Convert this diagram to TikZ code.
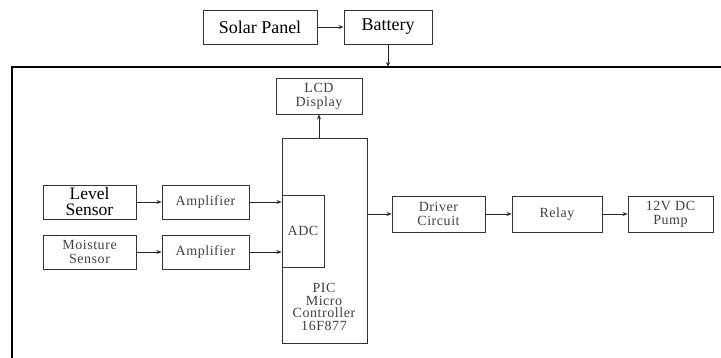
\documentclass[tikz,border=0pt]{standalone}
\usepackage{fontspec}
\setmainfont{Liberation Serif}
\newfontfamily\widefont[LetterSpace=4]{Liberation Serif}
\usetikzlibrary{positioning, arrows.meta, calc}

\begin{document}
\begin{tikzpicture}[
    x=1pt, y=-1pt,
    >={Stealth[length=5pt, width=4pt]},
    blk/.style={
      draw=black!80, line width=0.9pt,
      minimum height=34pt, inner sep=0pt,
      align=center, text=black!75,
      font=\widefont\fontsize{14}{14}\selectfont},
    bigblk/.style={blk, text=black,
      font=\rmfamily\fontsize{18}{16}\selectfont},
    arr/.style={->, line width=0.8pt, black!85},
]

\useasboundingbox (0,0) rectangle (721,358);

% Power supply
\node[bigblk, minimum width=114pt] (solar) at (260,27) {Solar Panel};
\node[bigblk, minimum width=88pt] (battery) at (388,27) {Battery};
\draw[arr] (solar) -- (battery);

% Outer frame
\coordinate (ftl) at (12,67);
\coordinate (ftr) at (721,67);
\coordinate (fbl) at (12,358);
\draw[line width=1.3pt] (ftr) -- (ftl) -- (fbl);
\draw[arr] (battery.south) -- (battery.south |- ftl);

% --- Controller ---
\node[blk, minimum width=85pt, minimum height=205pt] (pic) at (324.5,240.5) {};
\node[blk, minimum width=42pt, minimum height=72pt] (adc) at (303,231) {ADC};
\node[align=center, text=black!75, inner sep=0pt,
      font=\widefont\fontsize{14}{12.5}\selectfont] (pictxt) at (324,307)
  {PIC\\Micro\\Controller\\16F877};
\node[blk, minimum width=86pt, minimum height=36pt] (lcd) at (319,96)
  {LCD\\Display};
\draw[arr] (lcd.south |- pic.north) -- (lcd.south);

% --- Sensors ---
\node[bigblk, minimum width=93pt, font=\rmfamily\fontsize{17.5}{16}\selectfont]
  (level) at (89.5,202) {Level\\Sensor};
\node[blk, minimum width=87pt] (amp1) at (205.5,202) {Amplifier};
\node[blk, minimum width=93pt] (moist) at (89.5,252) {Moisture\\Sensor};
\node[blk, minimum width=87pt] (amp2) at (205.5,252) {Amplifier};

\draw[arr] (level) -- (amp1);
\draw[arr] (moist) -- (amp2);
\draw[arr] (amp1.east) -- (amp1.east -| adc.west);
\draw[arr] (amp2.east) -- (amp2.east -| adc.west);

% --- Output chain ---
\node[blk, minimum width=93pt, minimum height=36pt] (driver) at (438.5,214)
  {Driver\\Circuit};
\node[blk, minimum width=90pt, minimum height=36pt] (relay) at (557,214)
  {Relay};
\node[blk, minimum width=85pt, minimum height=36pt] (pump) at (670.5,214)
  {12V DC\\Pump};

\draw[arr] (driver.west -| pic.east) -- (driver.west);
\draw[arr] (driver) -- (relay);
\draw[arr] (relay) -- (pump);

\end{tikzpicture}
\end{document}
